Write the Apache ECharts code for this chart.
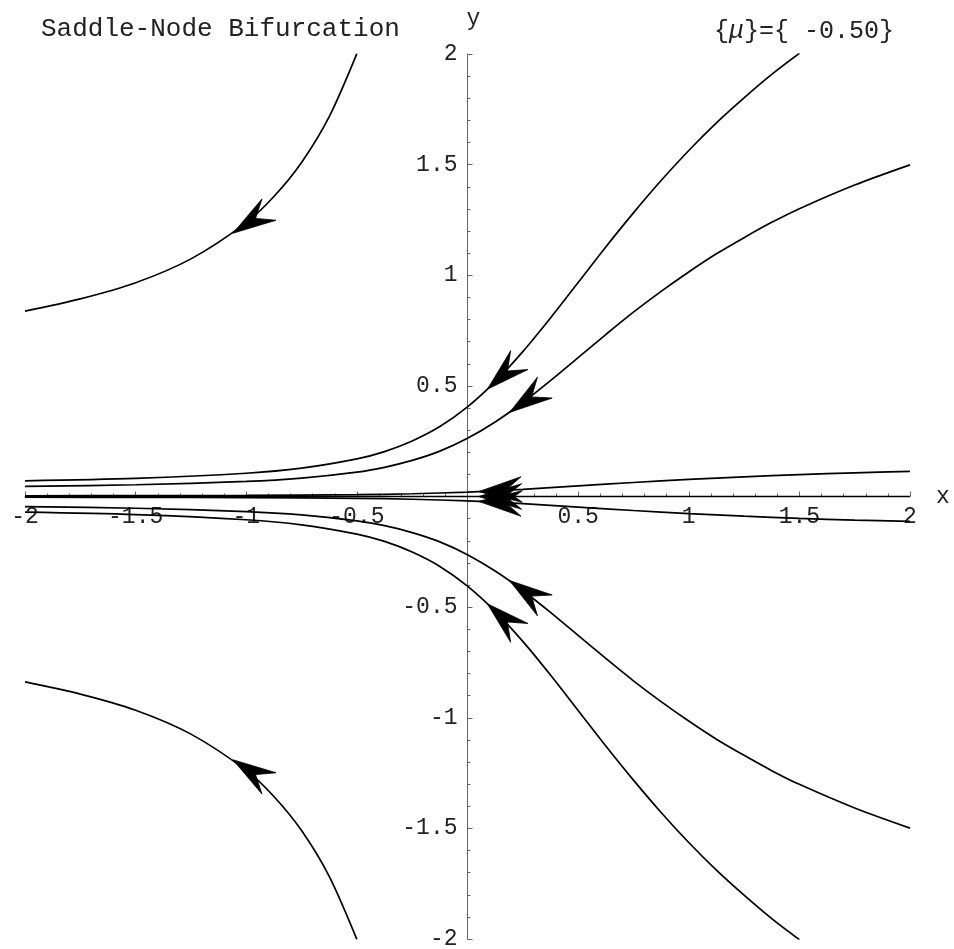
<!DOCTYPE html>
<html>
<head>
<meta charset="utf-8">
<title>Saddle-Node Bifurcation</title>
<script src="https://cdn.jsdelivr.net/npm/echarts@6/dist/echarts.min.js"></script>
<style>
  html, body { margin: 0; padding: 0; background: #fff; }
  #chart { width: 954px; height: 949px; }
</style>
</head>
<body>
<div id="chart"></div>
<script>
// trajectories as [x, y]
var curveTopLeft = [[-2,0.838],[-1.75,0.893],[-1.5,0.966],[-1.25,1.074],[-1,1.238],[-0.875,1.356],[-0.75,1.51],[-0.625,1.717],[-0.5,2.002]];
var curveUpper1 = [[-2,0.071],[-1.5,0.082],[-1,0.105],[-0.75,0.128],[-0.5,0.170],[-0.375,0.203],[-0.25,0.251],[-0.125,0.316],[0,0.405],[0.125,0.519],[0.25,0.655],[0.375,0.807],[0.5,0.967],[0.625,1.128],[0.75,1.282],[0.875,1.428],[1,1.564],[1.125,1.689],[1.25,1.802],[1.375,1.908],[1.5,2.003]];
var curveUpper2 = [[-2,0.046],[-1.5,0.053],[-1,0.068],[-0.75,0.083],[-0.5,0.110],[-0.375,0.132],[-0.25,0.163],[-0.125,0.205],[0,0.263],[0.125,0.337],[0.25,0.425],[0.375,0.524],[0.5,0.628],[0.625,0.732],[0.75,0.833],[0.875,0.927],[1,1.015],[1.125,1.097],[1.25,1.170],[1.375,1.239],[1.5,1.301],[1.75,1.408],[2,1.499]];
var curveNearUp = [[-2,0.0035],[-1.5,0.004],[-1,0.0052],[-0.5,0.0084],[-0.25,0.0124],[0,0.02],[0.25,0.0323],[0.5,0.0478],[0.75,0.0633],[1,0.0772],[1.25,0.089],[1.5,0.0989],[1.75,0.1071],[2,0.114]];
var curveAxis = [[-2,0],[2,0]];
var curveNearDown = [[-2,-0.0035],[-1.5,-0.004],[-1,-0.0052],[-0.5,-0.0084],[-0.25,-0.0124],[0,-0.02],[0.25,-0.0323],[0.5,-0.0478],[0.75,-0.0633],[1,-0.0772],[1.25,-0.089],[1.5,-0.0989],[1.75,-0.1071],[2,-0.112]];
var curveLower2 = [[-2,-0.046],[-1.5,-0.053],[-1,-0.068],[-0.75,-0.083],[-0.5,-0.110],[-0.375,-0.132],[-0.25,-0.163],[-0.125,-0.205],[0,-0.263],[0.125,-0.337],[0.25,-0.425],[0.375,-0.524],[0.5,-0.628],[0.625,-0.732],[0.75,-0.833],[0.875,-0.927],[1,-1.015],[1.125,-1.097],[1.25,-1.170],[1.375,-1.239],[1.5,-1.301],[1.75,-1.408],[2,-1.499]];
var curveLower1 = [[-2,-0.071],[-1.5,-0.082],[-1,-0.105],[-0.75,-0.128],[-0.5,-0.170],[-0.375,-0.203],[-0.25,-0.251],[-0.125,-0.316],[0,-0.405],[0.125,-0.519],[0.25,-0.655],[0.375,-0.807],[0.5,-0.967],[0.625,-1.128],[0.75,-1.282],[0.875,-1.428],[1,-1.564],[1.125,-1.689],[1.25,-1.802],[1.375,-1.908],[1.5,-2.003]];
var curveBottomLeft = [[-2,-0.838],[-1.75,-0.893],[-1.5,-0.966],[-1.25,-1.074],[-1,-1.238],[-0.875,-1.356],[-0.75,-1.51],[-0.625,-1.717],[-0.5,-2.002]];

var curves = [curveTopLeft, curveUpper1, curveUpper2, curveNearUp, curveAxis, curveNearDown, curveLower2, curveLower1, curveBottomLeft];

// arrow tips [x, y, index of the curve they sit on]
var arrowTips = [
  [-1.06, 1.19, 0],
  [0.09, 0.485, 1],
  [0.19, 0.38, 2],
  [0.05, 0.022, 3],
  [0.05, 0, 4],
  [0.05, -0.022, 5],
  [0.19, -0.38, 6],
  [0.09, -0.485, 7],
  [-1.06, -1.19, 8]
];

var tickLabels = ['-2', '-1.5', '-1', '-0.5', '0.5', '1', '1.5', '2'];
var muText = '{{m|μ}}={ -0.50}';

var FONT = '"Liberation Mono", "DejaVu Sans Mono", monospace';

// plot box in pixels; the axes cross at the origin, in the middle of it
var W = 954, H = 949;
var box = { left: 25, right: 910, top: 54, bottom: 939 };

var fmt = function(v) {
    var s = String(v);
    return tickLabels.indexOf(s) >= 0 ? s : '';
};

var arrowHead = function(params, api) {
    var tip = api.coord([api.value(0), api.value(1)]);
    var pts = curves[api.value(2)];
    var x = api.value(0);
    var i = 0;
    while (i < pts.length - 2 && pts[i + 1][0] < x) i++;
    var p0 = api.coord(pts[i]), p1 = api.coord(pts[i + 1]);
    var dx = p1[0] - p0[0], dy = p1[1] - p0[1];
    var len = Math.sqrt(dx * dx + dy * dy);
    var ux = dx / len, uy = dy / len;
    var L = 45, d = 27, t = 16.5 * Math.PI / 180;
    var c = Math.cos(t), s = Math.sin(t);
    var b1 = [tip[0] + L * (ux * c - uy * s), tip[1] + L * (ux * s + uy * c)];
    var b2 = [tip[0] + L * (ux * c + uy * s), tip[1] + L * (-ux * s + uy * c)];
    var n = [tip[0] + d * ux, tip[1] + d * uy];
    return {
        type: 'polygon',
        shape: { points: [tip, b1, n, b2] },
        style: { fill: '#000', stroke: '#000', lineWidth: 0.8, lineJoin: 'miter' }
    };
};

var series = [];
for (var k = 0; k < curves.length; k++) {
    series.push({
        type: 'line',
        data: curves[k],
        showSymbol: false,
        smooth: 0.3,
        lineStyle: { color: '#000', width: 1.7 },
        silent: true,
        z: 3
    });
}
series.push({
    type: 'custom',
    renderItem: arrowHead,
    data: arrowTips,
    encode: { x: 0, y: 1 },
    silent: true,
    z: 4
});

// move each axis from the box edge to the middle (where the other axis is 0)
var xShift = -((box.bottom - box.top) / 2);
var yShift = -((box.right - box.left) / 2);

var myChart = echarts.init(document.getElementById('chart'));
myChart.setOption({
    animation: false,
    backgroundColor: '#fff',
    grid: {
        left: box.left, right: W - box.right, top: box.top, bottom: H - box.bottom,
        containLabel: false, outerBoundsMode: 'none'
    },
    xAxis: {
        type: 'value', min: -2, max: 2, interval: 0.5,
        position: 'bottom', offset: xShift,
        name: 'x', nameLocation: 'end', nameGap: 26,
        nameTextStyle: { fontFamily: FONT, fontSize: 23, color: '#222' },
        axisLine: { onZero: false, lineStyle: { color: '#666', width: 1 } },
        axisTick: { inside: true, length: 5, lineStyle: { color: '#666' } },
        minorTick: { show: true, splitNumber: 5, length: 3, lineStyle: { color: '#666' } },
        splitLine: { show: false },
        axisLabel: { formatter: fmt, fontFamily: FONT, fontSize: 23, color: '#222', margin: 9 }
    },
    yAxis: {
        type: 'value', min: -2, max: 2, interval: 0.5,
        position: 'left', offset: yShift,
        name: 'y', nameLocation: 'end', nameGap: 24,
        nameTextStyle: { fontFamily: FONT, fontSize: 23, color: '#222', padding: [0, 0, 0, 12] },
        axisLine: { onZero: false, lineStyle: { color: '#666', width: 1 } },
        axisTick: { inside: true, length: 5, lineStyle: { color: '#666' } },
        minorTick: { show: true, splitNumber: 5, length: 3, lineStyle: { color: '#666' } },
        splitLine: { show: false },
        axisLabel: { formatter: fmt, fontFamily: FONT, fontSize: 23, color: '#222', margin: 10 }
    },
    graphic: [
        {
            type: 'text', x: 41, y: 29,
            style: { text: 'Saddle-Node Bifurcation', font: '26px ' + FONT, fill: '#222', textAlign: 'left', textVerticalAlign: 'middle' }
        },
        {
            type: 'text', x: 894, y: 31,
            style: {
                text: muText, font: '25px ' + FONT, fill: '#222', textAlign: 'right', textVerticalAlign: 'middle',
                rich: { m: { fontFamily: FONT, fontSize: 25, fontStyle: 'italic', fill: '#222' } }
            }
        }
    ],
    series: series
});
</script>
</body>
</html>
